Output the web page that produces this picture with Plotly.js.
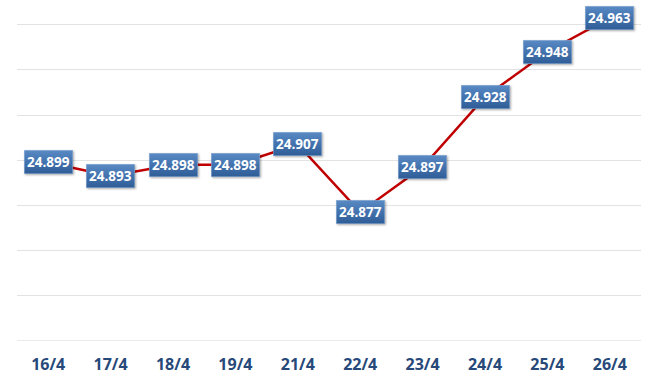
<!DOCTYPE html>
<html>
<head>
<meta charset="utf-8">
<script src="https://cdn.plot.ly/plotly-3.0.1.min.js"></script>
<style>
  html, body { margin: 0; padding: 0; background: #ffffff; }
  #chart { width: 659px; height: 385px; }
</style>
</head>
<body>
<div id="chart"></div>
<script>
const categories = ["16/4", "17/4", "18/4", "19/4", "21/4", "22/4", "23/4", "24/4", "25/4", "26/4"];
const values = [24.899, 24.893, 24.898, 24.898, 24.907, 24.877, 24.897, 24.928, 24.948, 24.963];
const valueLabels = ["24.899", "24.893", "24.898", "24.898", "24.907", "24.877", "24.897", "24.928", "24.948", "24.963"];
const gridTicks = [24.82, 24.84, 24.86, 24.88, 24.90, 24.92, 24.94, 24.96];

const trace = {
  type: "scatter",
  mode: "lines",
  x: categories,
  y: values,
  line: { color: "#c00000", width: 2.5 },
  hoverinfo: "skip"
};

const annotations = categories.map((c, i) => ({
  x: c,
  y: values[i],
  xref: "x",
  yref: "y",
  text: valueLabels[i],
  showarrow: false,
  xanchor: "center",
  yanchor: "middle",
  bgcolor: "#3f6fab",
  bordercolor: "#8aaed8",
  borderwidth: 0.5,
  borderpad: 2.5,
  font: { family: "Open Sans, sans-serif", size: 13.5, color: "#ffffff", weight: "bold" }
}));

const layout = {
  width: 659,
  height: 385,
  margin: { l: 17, r: 18, t: 2, b: 44 },
  paper_bgcolor: "#ffffff",
  plot_bgcolor: "#ffffff",
  showlegend: false,
  xaxis: {
    type: "category",
    range: [-0.5, categories.length - 0.5],
    showgrid: false,
    zeroline: false,
    showline: false,
    ticks: "",
    tickfont: { family: "Open Sans, sans-serif", size: 16, color: "#27497a", weight: "bold" },
    ticklabelstandoff: 12
  },
  yaxis: {
    range: [24.82, 24.97],
    tickvals: gridTicks,
    showticklabels: false,
    showgrid: true,
    gridcolor: "#e3e3e3",
    gridwidth: 1,
    zeroline: false,
    showline: false,
    ticks: ""
  },
  shapes: [{
    type: "line", xref: "paper", yref: "y", x0: 0, x1: 1, y0: 24.82, y1: 24.82,
    line: { color: "#d6d6d6", width: 1.2 }
  }],
  annotations: annotations
};

Plotly.newPlot("chart", [trace], layout, { staticPlot: true, displayModeBar: false }).then(() => {
  const svg = document.querySelector("#chart svg.main-svg");
  const ns = "http://www.w3.org/2000/svg";
  let defs = svg.querySelector("defs");
  if (!defs) { defs = document.createElementNS(ns, "defs"); svg.insertBefore(defs, svg.firstChild); }
  const grad = document.createElementNS(ns, "linearGradient");
  grad.setAttribute("id", "boxGrad");
  grad.setAttribute("x1", "0"); grad.setAttribute("y1", "0");
  grad.setAttribute("x2", "0"); grad.setAttribute("y2", "1");
  [["0%", "#5a8ac4"], ["50%", "#4373ae"], ["100%", "#2e5c96"]].forEach(([o, c]) => {
    const s = document.createElementNS(ns, "stop");
    s.setAttribute("offset", o); s.setAttribute("stop-color", c);
    grad.appendChild(s);
  });
  defs.appendChild(grad);
  document.querySelectorAll("#chart g.annotation rect.bg").forEach(r => {
    r.style.fill = "url(#boxGrad)";
    r.style.filter = "drop-shadow(1.5px 1.5px 1px rgba(0,0,0,0.35))";
  });
});
</script>
</body>
</html>
